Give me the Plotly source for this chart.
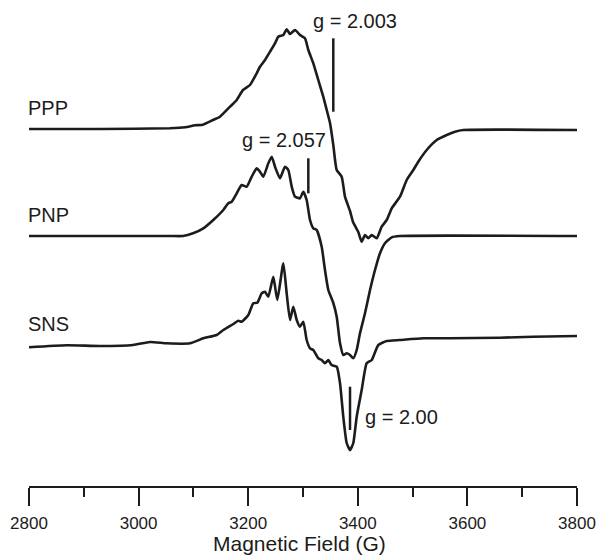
import plotly.graph_objects as go

# ---- data (field in Gauss, intensity in arbitrary units) ----
ppp_field = [2800, 2929.6, 3057.3, 3084.7, 3102.9, 3117.5, 3135.8, 3148.5, 3166.8, 3179.0,
             3190.5, 3203.3, 3215.5, 3221.5, 3230.7, 3239.8, 3248.9, 3254.9, 3264.1, 3270.2,
             3276.3, 3285.4, 3294.5, 3303.6, 3309.7, 3318.8, 3327.9, 3337.0, 3343.3, 3349.3,
             3355.3, 3361.5, 3370.6, 3376.6, 3385.8, 3391.3, 3400.9, 3407.1, 3413.1, 3419.2,
             3425.4, 3434.5, 3443.6, 3452.7, 3461.9, 3477.0, 3489.2, 3501.3, 3510.4, 3525.7,
             3544.0, 3562.2, 3577.4, 3592.5, 3800]
ppp_int = [1, 1, 1.7, 2.7, 4.7, 5.3, 10, 13.3, 23.3, 30,
           40, 45, 56.7, 63.3, 70, 78.3, 86.7, 93.3, 95, 100.7,
           96, 100, 95, 91.7, 80, 66.7, 50, 33.3, 20, 7,
           -15, -40, -46.7, -66.7, -81, -92, -102, -111.7, -105, -108.3,
           -105, -108.3, -96.7, -90, -78.3, -66.7, -50, -40, -31.7, -20,
           -10, -5, -1.7, 0, 0]

pnp_field = [2800, 3057.3, 3081.0, 3099.3, 3118.1, 3136.3, 3154.6, 3163.7, 3169.9, 3179.0,
             3188.1, 3197.3, 3206.4, 3215.5, 3221.5, 3227.6, 3236.7, 3242.9, 3248.9, 3258.0,
             3267.1, 3273.2, 3279.4, 3285.4, 3294.5, 3300.5, 3306.7, 3312.8, 3318.8, 3325.0,
             3334.1, 3340.1, 3346.2, 3355.3, 3361.5, 3367.5, 3373.5, 3379.7, 3385.8, 3391.8,
             3398.0, 3404.0, 3413.1, 3422.3, 3431.4, 3440.5, 3449.6, 3461.9, 3477.0, 3800]
pnp_int = [0, 0, 0, 2.7, 7.7, 16, 26, 32.7, 34.3, 42.7,
           51, 49.3, 59.3, 67.7, 64.3, 59.3, 72.7, 79.3, 69.3, 57.7,
           69.3, 66, 49.3, 39.3, 37.7, 44.3, 36, 16, 7.7, 6,
           -10.7, -34, -54, -67, -80.7, -107, -119, -117.3, -119, -122.3,
           -114, -97.3, -77.3, -54, -34, -17.3, -7.3, -1.3, 0, 0]

sns_field = [2800, 2868.8, 2929.6, 2989.8, 3020.8, 3051.3, 3093.8, 3118.1, 3142.5, 3154.6,
             3172.8, 3181.9, 3188.1, 3200.2, 3209.3, 3216.6, 3224.6, 3230.7, 3236.7, 3245.8,
             3253.1, 3264.1, 3270.2, 3276.3, 3282.3, 3288.5, 3294.5, 3300.5, 3306.7, 3312.8,
             3318.8, 3327.9, 3334.1, 3340.1, 3346.2, 3352.2, 3361.5, 3367.5, 3373.5, 3379.7,
             3385.8, 3391.8, 3398.0, 3407.1, 3416.2, 3425.4, 3437.4, 3452.7, 3477.0, 3519.5,
             3568.2, 3659.5, 3719.7, 3800]
sns_int = [-1.3, 0.7, 0, 1, 4, 2.7, 2.7, 7.7, 11, 16,
           22, 25.3, 24.3, 31, 42.7, 43.3, 52.7, 54.3, 49.3, 69.3,
           46, 82.7, 52.7, 26, 39.3, 26, 19.3, 24.3, 6, -2.3,
           -4, -12.3, -14, -17.3, -14, -19, -20.7, -37, -70.7, -97,
           -104, -97, -70.7, -44, -17.3, -14, 1, 5, 6, 7.7,
           7.7, 8.3, 9.3, 10]

sample_names = ["PPP", "PNP", "SNS"]
g_labels = ["g = 2.003", "g = 2.057", "g = 2.00"]
g_field = [3355.3, 3309.7, 3385.8]
tick_vals = [2800, 3000, 3200, 3400, 3600, 3800]
tick_text = ["2800", "3000", "3200", "3400", "3600", "3800"]

# ---- layout / styling (vertical stacking offsets) ----
offsets = [356, 250, 140]
INK = "#1c1c1c"
FONT = "Liberation Sans, Arial, Helvetica, sans-serif"

fig = go.Figure()
for fld, inten, off in zip([ppp_field, pnp_field, sns_field],
                           [ppp_int, pnp_int, sns_int], offsets):
    fig.add_trace(go.Scatter(x=fld, y=[v + off for v in inten], mode="lines",
                             line=dict(color=INK, width=2.6, shape="spline", smoothing=0.5),
                             hoverinfo="skip"))

# g-value marker bars
g_bar_y = [(374.3, 447.7), (292.7, 327.7), (56, 99.3)]
for gx, (y0, y1) in zip(g_field, g_bar_y):
    fig.add_shape(type="line", xref="x", yref="y", x0=gx, x1=gx, y0=y0, y1=y1,
                  line=dict(color=INK, width=2.5))

# g-value labels
g_lab_pos = [(3394.9, 465, "center"), (3265.3, 346.5, "center"), (3410.0, 69.3, "left")]
for txt, (lx, ly, anc) in zip(g_labels, g_lab_pos):
    fig.add_annotation(x=lx, y=ly, xref="x", yref="y", text=txt, showarrow=False,
                       xanchor=anc, yanchor="middle",
                       font=dict(family=FONT, size=20, color=INK))

# sample labels
name_y = [378.2, 271, 161.8]
for nm, ny in zip(sample_names, name_y):
    fig.add_annotation(x=2800, y=ny, xref="x", yref="y", text=nm, showarrow=False,
                       xanchor="left", yanchor="middle", xshift=-3,
                       font=dict(family=FONT, size=20, color=INK))

# axis title
fig.add_annotation(x=0.493, y=-70 / 486, xref="paper", yref="paper",
                   text="Magnetic Field (G)", showarrow=False,
                   xanchor="center", yanchor="bottom", borderpad=0,
                   font=dict(family=FONT, size=21, color=INK))

fig.update_layout(
    width=600, height=556,
    margin=dict(l=29, r=23, t=0, b=70),
    paper_bgcolor="white", plot_bgcolor="white",
    showlegend=False,
    xaxis=dict(range=[2800, 3800], showgrid=False, zeroline=False,
               showline=True, linecolor=INK, linewidth=2,
               ticks="outside", ticklen=18, tickwidth=2, tickcolor=INK,
               tickvals=tick_vals, ticktext=tick_text,
               ticklabelstandoff=3,
               tickfont=dict(family=FONT, size=17, color=INK),
               minor=dict(dtick=100, tick0=2800, ticks="outside", ticklen=9,
                          tickwidth=2, tickcolor=INK, showgrid=False)),
    yaxis=dict(range=[0, 486], visible=False, showgrid=False, zeroline=False),
)

fig.write_html("out.html")
